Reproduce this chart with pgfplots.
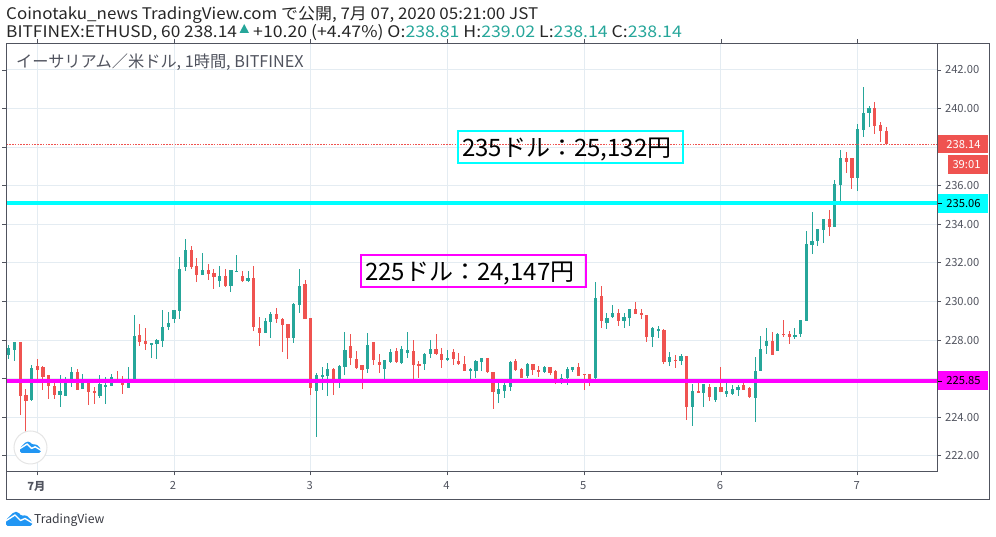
\documentclass[border=0pt]{standalone}
\usepackage{pgfplots}
\usepackage{pgfplotstable}
\usepackage{fontspec}
\pgfplotsset{compat=1.18}
\setmainfont{Noto Sans CJK JP}
\newfontfamily\hdr[FakeStretch=1.06]{Noto Sans CJK JP}
\newfontfamily\hdrb[FakeStretch=1.08]{Noto Sans CJK JP}
\newfontfamily\hdrc[FakeStretch=1.105]{Noto Sans CJK JP}
\definecolor{cgreen}{HTML}{26A69A}
\definecolor{cred}{HTML}{EF5350}
\definecolor{cgrid}{HTML}{E4ECF2}
\definecolor{cframe}{HTML}{50535E}
\definecolor{ctv}{HTML}{2196F3}
\definecolor{ccyan}{HTML}{00FFFF}
\definecolor{cmag}{HTML}{FF00FF}
\pgfplotstableread{
x l h b t
-5 227.02 227.75 227.23 227.60
-4 226.92 227.91 227.49 227.91
-1 224.85 226.71 224.90 226.56
4 224.54 226.19 225.16 225.37
5 225.11 226.09 225.11 225.77
6 225.57 226.61 225.93 226.35
8 225.46 226.24 225.46 225.93
11 225.00 226.19 225.11 225.72
12 224.69 226.09 225.57 225.67
13 225.62 226.24 225.62 226.09
16 225.52 226.61 225.52 225.93
17 225.93 229.30 225.93 228.21
20 227.07 227.85 227.75 227.85
21 227.02 228.06 227.80 228.01
22 227.64 229.56 227.96 228.68
23 228.52 229.46 228.68 228.89
24 228.89 229.56 229.09 229.56
25 229.09 232.31 229.51 231.68
26 231.58 233.24 231.79 232.67
29 231.37 232.52 231.37 231.63
32 230.75 231.84 231.06 231.32
34 230.49 231.63 230.80 231.63
35 231.53 232.41 231.53 231.58
37 231.01 231.58 231.06 231.22
40 228.37 229.14 228.37 228.99
41 228.11 229.46 228.94 229.35
45 227.85 229.92 228.11 229.87
46 229.41 231.68 229.82 230.80
49 222.98 226.30 225.37 226.19
50 225.42 226.61 226.09 226.19
51 225.11 226.82 226.14 226.50
53 225.52 226.71 225.88 226.66
54 226.19 228.42 226.61 227.49
58 226.30 228.37 226.50 227.75
61 225.93 226.97 226.50 226.97
62 226.82 227.54 226.87 227.38
64 226.76 227.70 226.82 227.54
65 227.07 228.42 227.33 227.49
68 226.45 227.33 226.76 227.28
69 227.07 228.01 227.28 227.54
72 226.92 227.49 226.97 227.07
76 225.99 226.56 226.40 226.50
77 226.04 226.97 226.40 226.92
78 226.40 227.07 226.87 227.07
81 224.74 225.77 225.21 225.46
82 225.00 225.93 225.37 225.67
83 225.37 226.92 225.57 226.87
86 226.04 226.82 226.14 226.76
89 226.30 226.66 226.35 226.61
92 225.72 226.24 225.93 226.04
93 225.67 226.61 226.04 226.50
94 226.35 226.61 226.45 226.61
98 225.99 231.01 226.04 230.18
100 228.58 229.41 228.89 229.14
101 229.14 229.82 229.20 229.41
103 228.63 229.41 228.99 229.20
104 228.73 229.61 229.14 229.61
108 227.64 228.68 228.16 228.63
109 228.11 228.73 228.47 228.58
111 226.66 227.38 226.87 227.12
113 226.71 227.28 226.92 227.18
115 223.55 225.72 224.54 225.37
117 224.54 225.72 225.26 225.72
119 224.80 225.57 224.90 225.57
121 225.05 225.77 225.21 225.37
122 225.16 225.67 225.21 225.46
123 225.11 225.67 225.42 225.57
126 223.76 227.12 225.00 226.40
127 226.40 228.21 226.40 227.54
128 227.28 228.63 227.70 227.96
130 227.44 228.37 227.44 228.32
133 228.06 228.63 228.16 228.26
134 228.16 229.04 228.32 229.04
135 228.99 233.65 228.99 232.98
136 232.46 234.64 232.93 233.14
137 232.88 233.76 233.14 233.76
138 233.03 234.28 233.71 234.28
140 233.86 236.30 233.86 236.09
141 235.05 237.85 236.04 237.44
144 235.73 239.20 236.40 238.94
145 238.53 241.12 238.89 239.77
146 239.04 240.13 239.77 240.03
}\greentable
\pgfplotstableread{
x l h b t
-3 224.12 227.91 225.11 227.91
-2 223.22 225.46 224.85 225.16
0 225.93 227.02 226.45 226.66
1 225.42 226.66 226.09 226.61
2 224.95 226.19 225.62 226.19
3 224.95 225.93 225.16 225.62
7 225.42 226.50 225.42 226.35
9 224.64 225.93 225.31 225.77
10 224.69 225.57 225.26 225.37
14 225.88 226.40 225.88 225.93
15 225.21 226.14 225.67 225.88
18 227.70 228.84 227.91 228.26
19 227.49 228.63 227.80 227.96
27 231.68 232.88 231.79 232.67
28 231.01 232.26 231.37 231.84
30 231.12 231.94 231.42 231.63
31 230.65 231.68 231.27 231.48
33 230.75 231.68 230.80 231.32
36 231.01 231.58 231.06 231.32
38 228.47 231.84 228.68 231.22
39 227.70 229.20 228.37 228.63
42 228.89 229.66 229.09 229.35
43 227.38 229.14 228.78 229.09
44 227.02 228.84 228.11 228.84
47 229.09 231.12 229.09 230.91
48 225.16 229.14 225.52 229.14
52 225.16 226.56 225.88 226.50
55 226.71 228.32 227.07 227.70
56 226.50 227.44 226.56 227.02
57 225.46 226.71 226.45 226.71
59 226.71 227.91 226.97 227.91
60 226.30 227.28 226.71 226.87
63 226.82 227.59 226.87 227.44
66 225.93 228.01 226.71 227.44
67 226.04 226.92 226.66 226.76
70 227.23 228.32 227.28 227.54
71 226.56 227.59 226.97 227.28
73 226.71 227.54 227.02 227.38
74 226.71 227.33 226.76 226.92
75 226.40 227.18 226.40 226.76
79 226.30 227.07 226.35 227.07
80 224.43 226.35 225.31 226.35
84 226.40 227.02 226.45 226.92
85 226.04 226.56 226.04 226.50
87 226.19 226.76 226.45 226.76
88 226.09 226.66 226.35 226.45
90 226.19 226.61 226.30 226.61
91 225.72 226.45 225.93 226.40
95 226.14 226.82 226.14 226.61
96 225.42 226.24 226.19 226.24
97 225.62 226.24 225.93 226.24
99 228.63 230.80 228.99 230.29
102 228.73 229.61 228.99 229.41
105 229.35 229.97 229.35 229.61
106 229.09 229.61 229.30 229.41
107 227.91 229.30 228.16 229.30
110 226.76 228.58 226.87 228.52
112 226.56 227.23 226.92 226.97
114 223.86 227.18 224.54 227.18
116 225.26 225.83 225.26 225.37
118 224.85 225.72 225.05 225.57
120 225.31 226.61 225.31 225.57
124 225.42 225.77 225.42 225.67
125 225.00 225.57 225.05 225.52
129 227.23 228.42 227.23 227.96
131 228.16 229.04 228.26 228.32
132 227.80 228.47 228.16 228.32
139 233.40 234.74 233.86 234.28
142 236.66 237.75 237.23 237.44
143 235.83 237.44 236.40 237.44
147 238.68 240.34 239.10 240.03
148 238.27 239.30 238.84 239.15
149 238.14 239.04 238.14 238.84
}\redtable
\newcommand\tvlogo[2]{%
\begin{scope}[shift={#1},x=#2pt,y=-#2pt]
\fill[ctv,rounded corners=1.5pt] (0,16)--(0,10)--(8,2)--(12,2)--(15.5,6)--(20,5)--(26,11)--(26,16)--cycle;
\draw[white,line width=1.4pt,line join=round] (-0.5,11)--(9,5)--(14.5,10.5)--(19,8.5)--(26.5,13);
\end{scope}}
\begin{document}
\begin{tikzpicture}
\begin{axis}[
  at={(0pt,0pt)},anchor=south west,
  scale only axis,width=930.5pt,height=428pt,
  xmin=-5.406,xmax=157.93,ymin=221.19,ymax=243.37,
  axis line style={cframe,line width=1pt},
  grid=major,grid style={cgrid,line width=1pt},
  xtick={0,24,48,72,96,120,144},
  xticklabels={\textbf{7月},2,3,4,5,6,7},
  ytick={222,224,226,228,230,232,234,236,238,240,242},
  yticklabels={222.00,224.00,,228.00,230.00,232.00,234.00,236.00,,240.00,242.00},
  yticklabel pos=right,
  tick style={cframe,line width=0.8pt},
  tick align=outside,
  major tick length=4pt,
  ticklabel style={font=\fontsize{11.2}{11.2}\selectfont,text=cframe},
  xticklabel style={yshift=-2pt,xshift=-1pt},
  yticklabel style={xshift=0.5pt},
]
\addplot[draw=none,forget plot,error bars/.cd,y dir=plus,y explicit,error mark=none,error bar style={draw=cgreen,solid,line width=1pt}]
  table[x=x,y=l,y error plus expr=\thisrow{h}-\thisrow{l}]{\greentable};
\addplot[draw=none,forget plot,error bars/.cd,y dir=plus,y explicit,error mark=none,error bar style={draw=cgreen,solid,line width=3.2pt}]
  table[x=x,y=b,y error plus expr=\thisrow{t}-\thisrow{b}]{\greentable};
\addplot[draw=none,forget plot,error bars/.cd,y dir=plus,y explicit,error mark=none,error bar style={draw=cred,solid,line width=1pt}]
  table[x=x,y=l,y error plus expr=\thisrow{h}-\thisrow{l}]{\redtable};
\addplot[draw=none,forget plot,error bars/.cd,y dir=plus,y explicit,error mark=none,error bar style={draw=cred,solid,line width=3.2pt}]
  table[x=x,y=b,y error plus expr=\thisrow{t}-\thisrow{b}]{\redtable};
\addplot[cred,line width=0.9pt,dash pattern=on 1.6pt off 1.2pt,forget plot] coordinates {(-5.406,238.14)(157.93,238.14)};
\addplot[ccyan,line width=4pt,forget plot] coordinates {(-5.406,235.09)(157.93,235.09)};
\addplot[cmag,line width=4pt,forget plot] coordinates {(-5.406,225.87)(157.93,225.87)};
\end{axis}
\begin{scope}[shift={(-6.5pt,471.5pt)},x=1pt,y=-1pt]
  % outer frame
  \draw[cframe,line width=1pt] (6.5,43.5)--(989,43.5)--(989,500)--(6.5,500)--cycle;
  % header
  \node[anchor=base west,inner sep=0pt,font=\hdr\fontsize{16}{16}\selectfont,text=black!85] at (6,20) {Coinotaku\_news TradingView.com で公開, 7月 07, 2020 05:21:00 JST};
  \node[anchor=base west,inner sep=0pt,font=\hdrb\fontsize{16}{16}\selectfont,text=black!85] at (6,37.5) {BITFINEX:ETHUSD, 60 238.14};
  \fill[cgreen] (239.5,33)--(249,33)--(244.2,24)--cycle;
  \node[anchor=base west,inner sep=0pt,font=\hdrc\fontsize{16}{16}\selectfont,text=black!85] at (253,37.5) {+10.20 (+4.47\%) O:\textcolor{cgreen}{238.81} H:\textcolor{cgreen}{239.02} L:\textcolor{cgreen}{238.14} C:\textcolor{cgreen}{238.14}};
  \node[anchor=base west,inner sep=0pt,font=\fontsize{16.2}{16.2}\selectfont,text=cframe] at (16,67.5) {イーサリアム／米ドル, 1時間, BITFINEX};
  % annotation boxes
  \draw[ccyan,line width=2pt] (458,131) rectangle (683,163);
  \node[anchor=base west,inner sep=0pt,font=\fontsize{24}{24}\selectfont] at (462,156.5) {235ドル：25,132円};
  \draw[cmag,line width=2pt] (361,255) rectangle (586,287);
  \node[anchor=base west,inner sep=0pt,font=\fontsize{24}{24}\selectfont] at (365,280.5) {225ドル：24,147円};
  % price tags
  \fill[cred] (938,135) rectangle (988,153.5);
  \node[anchor=center,inner sep=0pt,font=\fontsize{11.2}{11.2}\selectfont,text=white] at (963.5,144.5) {238.14};
  \fill[cred] (948,155) rectangle (988,174);
  \node[anchor=center,inner sep=0pt,font=\fontsize{11.2}{11.2}\selectfont,text=white] at (966.5,164.5) {39:01};
  \fill[ccyan] (938,194) rectangle (988,213);
  \draw[black] (938,203.5)--(942,203.5);
  \node[anchor=center,inner sep=0pt,font=\fontsize{11.2}{11.2}\selectfont,text=black] at (963.5,203.5) {235.06};
  \fill[cmag] (938,371) rectangle (988,390.5);
  \draw[black] (938,381)--(942,381);
  \node[anchor=center,inner sep=0pt,font=\fontsize{11.2}{11.2}\selectfont,text=black] at (963.5,381) {225.85};
  % logo button
  \fill[white] (30.5,447.5) circle (16.5);
  \draw[black!10,line width=1pt] (30.5,447.5) circle (16.5);
\end{scope}
\begin{scope}[shift={(-6.5pt,471.5pt)}]
  \tvlogo{(20pt,-440pt)}{0.8}
  \tvlogo{(6pt,-510pt)}{1}
\end{scope}
\node[anchor=base west,inner sep=0pt,font=\fontsize{12.2}{12.2}\selectfont,text=cframe!70!black] at (27.5pt,-52.5pt) {TradingView};
\useasboundingbox (-6.5pt,-65.5pt) rectangle (989.5pt,471.5pt);
\end{tikzpicture}
\end{document}
